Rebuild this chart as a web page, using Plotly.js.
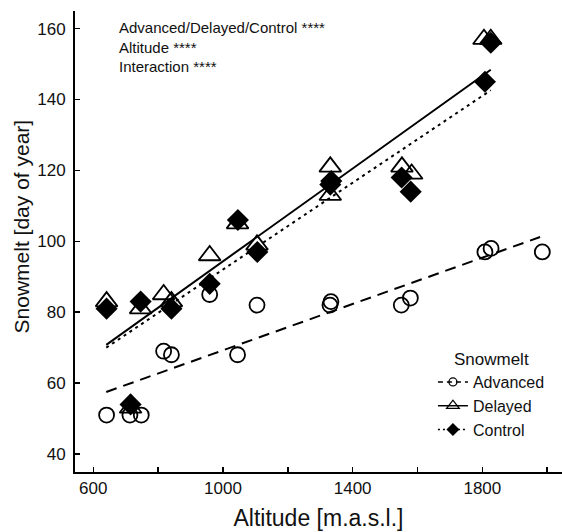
<!DOCTYPE html>
<html><head><meta charset="utf-8">
<script src="https://cdn.plot.ly/plotly-3.0.1.min.js"></script>
<style>html,body{margin:0;padding:0;background:#fff}#chart{width:562px;height:532px}</style>
</head><body><div id="chart"></div>
<script>
// ---- data ----
const groupNames = ['Advanced', 'Delayed', 'Control'];

const advancedX = [641, 713, 748, 817, 841, 959, 1045, 1105, 1330, 1333, 1550, 1578, 1808, 1827, 1985];
const advancedY = [51, 51, 51, 69, 68, 85, 68, 82, 82, 83, 82, 84, 97, 98, 97];

const delayedX = [641, 715, 746, 817, 841, 959, 1045, 1105, 1331, 1331, 1552, 1582, 1805, 1826];
const delayedY = [83, 53, 81, 85, 83, 96, 105, 99, 121, 113, 121, 119, 157, 157];

const controlX = [641, 715, 746, 841, 959, 1046, 1106, 1331, 1334, 1551, 1579, 1808, 1826];
const controlY = [81, 54, 83, 81, 88, 106, 97, 116, 117, 118, 114, 145, 156];

// fitted regression lines (end points)
const advancedFitX = [640, 1978];
const advancedFitY = [57.5, 101.2];
const delayedFitX = [640, 1826];
const delayedFitY = [70.8, 148.4];
const controlFitX = [640, 1826];
const controlFitY = [70.0, 142.6];

const xTickVals = [600, 800, 1000, 1200, 1400, 1600, 1800, 2000];
const xTickText = ['600', '', '1000', '', '1400', '', '1800', ''];
const yTickVals = [40, 60, 80, 100, 120, 140, 160];
const yTickText = ['40', '60', '80', '100', '120', '140', '160'];

const xTitle = 'Altitude [m.a.s.l.]';
const yTitle = 'Snowmelt [day of year]';
const legendTitle = 'Snowmelt';
const statLines = ['Advanced/Delayed/Control ****', 'Altitude ****', 'Interaction ****'];

// ---- styles ----
const FONT = 'Liberation Sans, Arial, Helvetica, sans-serif';
const BLACK = '#000000';
const TEXT = '#111111';

const traces = [];
// fit lines
traces.push({x: advancedFitX, y: advancedFitY, mode: 'lines', showlegend: false, hoverinfo: 'skip',
  line: {color: BLACK, width: 2, dash: '11px,7px'}});
traces.push({x: delayedFitX, y: delayedFitY, mode: 'lines', showlegend: false, hoverinfo: 'skip',
  line: {color: BLACK, width: 2}});
traces.push({x: controlFitX, y: controlFitY, mode: 'lines', showlegend: false, hoverinfo: 'skip',
  line: {color: BLACK, width: 2, dash: '3px,4px'}});
// points
traces.push({x: advancedX, y: advancedY, mode: 'markers', name: groupNames[0], showlegend: false,
  marker: {symbol: 'circle-open', size: 15, color: BLACK, line: {width: 1.8, color: BLACK}}});
traces.push({x: delayedX, y: delayedY, mode: 'markers', name: groupNames[1], showlegend: false,
  marker: {symbol: 'triangle-up-open', size: 19, color: BLACK, line: {width: 1.8, color: BLACK}}});
traces.push({x: controlX, y: controlY, mode: 'markers', name: groupNames[2], showlegend: false,
  marker: {symbol: 'diamond', size: 17, color: BLACK, line: {width: 0}}});
// legend entries
traces.push({x: [null], y: [null], mode: 'lines+markers', name: groupNames[0],
  line: {color: BLACK, width: 1.5, dash: '5px,4px'},
  marker: {symbol: 'circle-open', size: 8, color: BLACK, line: {width: 1.3, color: BLACK}}});
traces.push({x: [null], y: [null], mode: 'lines+markers', name: groupNames[1],
  line: {color: BLACK, width: 1.5},
  marker: {symbol: 'triangle-up-open', size: 11, color: BLACK, line: {width: 1.3, color: BLACK}}});
traces.push({x: [null], y: [null], mode: 'lines+markers', name: groupNames[2],
  line: {color: BLACK, width: 1.5, dash: '2px,3px'},
  marker: {symbol: 'diamond', size: 10, color: BLACK, line: {width: 0}}});

const annotations = [{
  text: statLines.join('<br>'), xref: 'paper', yref: 'paper', x: 0.086, y: 0.9224,
  xanchor: 'left', yanchor: 'middle', align: 'left', showarrow: false,
  font: {family: FONT, size: 15, color: TEXT}
}, {
  // y-axis title (placed like the reference, slightly above the axis centre)
  text: yTitle, xref: 'paper', yref: 'paper', x: -0.109, y: 0.5325,
  xanchor: 'center', yanchor: 'middle', textangle: -90, showarrow: false,
  font: {family: FONT, size: 21, color: TEXT}
}];

const layout = {
  width: 562, height: 532,
  margin: {l: 75, r: 0, t: 11, b: 60},
  paper_bgcolor: '#ffffff', plot_bgcolor: '#ffffff',
  font: {family: FONT, color: BLACK},
  showlegend: true,
  legend: {
    x: 0.735, y: 0.28, xanchor: 'left', yanchor: 'top',
    bgcolor: 'rgba(0,0,0,0)', borderwidth: 0,
    font: {family: FONT, size: 16, color: TEXT},
    title: {text: legendTitle, side: 'top center', font: {family: FONT, size: 17, color: TEXT}}
  },
  xaxis: {
    range: [543.6, 2045.7], showgrid: false, zeroline: false,
    showline: true, linecolor: BLACK, linewidth: 2,
    ticks: 'inside', ticklen: 5, tickwidth: 1.5, tickcolor: BLACK,
    tickmode: 'array', tickvals: xTickVals, ticktext: xTickText,
    tickfont: {family: FONT, size: 17, color: TEXT},
    title: {text: xTitle, font: {family: FONT, size: 23, color: TEXT}, standoff: 12}
  },
  yaxis: {
    range: [34.93, 164.96], showgrid: false, zeroline: false,
    showline: true, linecolor: BLACK, linewidth: 2,
    ticks: 'inside', ticklen: 5, tickwidth: 1.5, tickcolor: BLACK,
    tickmode: 'array', tickvals: yTickVals, ticktext: yTickText,
    ticklabelstandoff: 4,
    tickfont: {family: FONT, size: 17, color: TEXT}
  },
  annotations: annotations
};

Plotly.newPlot('chart', traces, layout, {displayModeBar: false, staticPlot: true});
</script>
</body></html>
